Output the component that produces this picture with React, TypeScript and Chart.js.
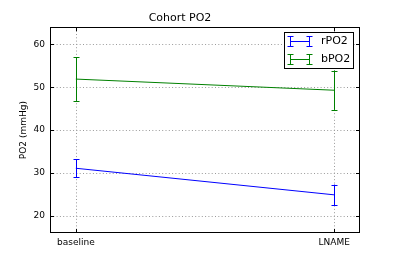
import React, { useEffect, useRef } from "react";
import { Chart, registerables } from "chart.js";

Chart.register(...registerables);

const categories = ["baseline", "LNAME"];
const rPO2 = [31.1, 24.9];
const rPO2Err = [2.1, 2.4];
const bPO2 = [51.9, 49.3];
const bPO2Err = [5.1, 4.6];
const yTicks = [20, 30, 40, 50, 60];

const seriesNames = ["rPO2", "bPO2"];
const seriesColors = ["#0000ff", "#008000"];
const FONT = "'DejaVu Sans', sans-serif";

const errors = [rPO2Err, bPO2Err];

const gridPlugin = {
  id: "dottedGrid",
  beforeDatasetsDraw(chart: any) {
    const ctx = chart.ctx;
    const { left, right, top, bottom } = chart.chartArea;
    const xs = chart.scales.x;
    const ys = chart.scales.y;
    ctx.save();
    ctx.strokeStyle = "#9a9a9a";
    ctx.lineWidth = 1;
    ctx.setLineDash([1, 2.3]);
    ctx.beginPath();
    yTicks.forEach((v) => {
      const py = Math.round(ys.getPixelForValue(v)) + 0.5;
      ctx.moveTo(left, py);
      ctx.lineTo(right, py);
    });
    categories.forEach((_, i) => {
      const px = Math.round(xs.getPixelForValue(i)) + 0.5;
      ctx.moveTo(px, bottom);
      ctx.lineTo(px, top);
    });
    ctx.stroke();
    ctx.restore();
  },
};

const errorBarPlugin = {
  id: "errorBars",
  afterDatasetsDraw(chart: any) {
    const ctx = chart.ctx;
    const xs = chart.scales.x;
    const ys = chart.scales.y;
    chart.data.datasets.forEach((ds: any, i: number) => {
      const err = errors[i];
      ctx.save();
      ctx.strokeStyle = ds.borderColor;
      ctx.lineWidth = 1;
      ds.data.forEach((p: any, j: number) => {
        const px = Math.round(xs.getPixelForValue(p.x)) + 0.5;
        const top = ys.getPixelForValue(p.y + err[j]);
        const bot = ys.getPixelForValue(p.y - err[j]);
        ctx.beginPath();
        ctx.moveTo(px, top);
        ctx.lineTo(px, bot);
        ctx.moveTo(px - 3, Math.round(top) + 0.5);
        ctx.lineTo(px + 3, Math.round(top) + 0.5);
        ctx.moveTo(px - 3, Math.round(bot) + 0.5);
        ctx.lineTo(px + 3, Math.round(bot) + 0.5);
        ctx.stroke();
      });
      ctx.restore();
    });
  },
};

const framePlugin = {
  id: "frameAndLegend",
  afterDraw(chart: any) {
    const ctx = chart.ctx;
    const { left, right, top, bottom } = chart.chartArea;
    const xs = chart.scales.x;
    const ys = chart.scales.y;
    ctx.save();
    // inward ticks
    ctx.strokeStyle = "#000";
    ctx.lineWidth = 1;
    ctx.beginPath();
    yTicks.forEach((v) => {
      const py = Math.round(ys.getPixelForValue(v)) + 0.5;
      ctx.moveTo(left, py);
      ctx.lineTo(left + 4, py);
      ctx.moveTo(right, py);
      ctx.lineTo(right - 4, py);
    });
    categories.forEach((_, v) => {
      const px = Math.round(xs.getPixelForValue(v)) + 0.5;
      ctx.moveTo(px, bottom);
      ctx.lineTo(px, bottom - 4);
      ctx.moveTo(px, top);
      ctx.lineTo(px, top + 4);
    });
    ctx.stroke();
    // frame
    ctx.strokeStyle = "#000";
    ctx.lineWidth = 1;
    ctx.strokeRect(Math.round(left) + 0.5, Math.round(top) + 0.5, Math.round(right - left) - 1, Math.round(bottom - top) - 1);

    // legend
    const lx = 284.5, ly = 32.5, lw = 69, lh = 36;
    ctx.fillStyle = "#fff";
    ctx.fillRect(lx, ly, lw, lh);
    ctx.strokeStyle = "#000";
    ctx.strokeRect(lx, ly, lw, lh);
    seriesNames.forEach((name, i) => {
      const cy = 41.5 + i * 18;
      ctx.strokeStyle = seriesColors[i];
      ctx.beginPath();
      const x0 = 290.5, x1 = 309.5;
      ctx.moveTo(x0, cy);
      ctx.lineTo(x1, cy);
      [x0, x1].forEach((xx) => {
        ctx.moveTo(xx, cy - 5);
        ctx.lineTo(xx, cy + 5);
        ctx.moveTo(xx - 3, cy - 5);
        ctx.lineTo(xx + 3, cy - 5);
        ctx.moveTo(xx - 3, cy + 5);
        ctx.lineTo(xx + 3, cy + 5);
      });
      ctx.stroke();
      ctx.fillStyle = "#000";
      ctx.font = `11px ${FONT}`;
      ctx.textBaseline = "middle";
      ctx.textAlign = "left";
      ctx.fillText(name, 321, cy);
    });
    ctx.restore();
  },
};

export default function App() {
  const ref = useRef<HTMLCanvasElement | null>(null);
  useEffect(() => {
    document.body.style.margin = "0";
    if (!ref.current) return;
    const chart = new Chart(ref.current, {
      type: "line",
      data: {
        datasets: [
          {
            label: seriesNames[0],
            data: categories.map((_, i) => ({ x: i, y: rPO2[i] })),
            borderColor: seriesColors[0],
            backgroundColor: seriesColors[0],
            borderWidth: 1,
            pointRadius: 0,
            fill: false,
          },
          {
            label: seriesNames[1],
            data: categories.map((_, i) => ({ x: i, y: bPO2[i] })),
            borderColor: seriesColors[1],
            backgroundColor: seriesColors[1],
            borderWidth: 1,
            pointRadius: 0,
            fill: false,
          },
        ],
      },
      options: {
        responsive: false,
        animation: false,
        events: [],
        layout: { padding: { left: 0, right: 40, top: 0, bottom: 0 } },
        plugins: {
          legend: { display: false },
          tooltip: { enabled: false },
          title: {
            display: true,
            text: "Cohort PO2",
            color: "#000",
            font: { family: FONT, size: 11, weight: "normal" },
            padding: { top: 12, bottom: 2 },
          },
        },
        scales: {
          x: {
            type: "linear",
            min: -0.1,
            max: 1.1,
            afterBuildTicks: (s: any) => {
              s.ticks = categories.map((_, i) => ({ value: i }));
            },
            afterFit: (s: any) => {
              s.height = 34;
            },
            ticks: {
              color: "#000",
              font: { family: FONT, size: 9 },
              padding: 4,
              maxRotation: 0,
              autoSkip: false,
              callback: (v: any) => categories[Math.round(v)] ?? "",
            },
            grid: { display: false, drawTicks: false },
            border: { display: false },
          },
          y: {
            type: "linear",
            min: 16,
            max: 64,
            afterBuildTicks: (s: any) => {
              s.ticks = yTicks.map((v) => ({ value: v }));
            },
            afterFit: (s: any) => {
              s.width = 50;
            },
            ticks: {
              color: "#000",
              font: { family: FONT, size: 9 },
              padding: 5,
            },
            grid: { display: false, drawTicks: false },
            border: { display: false },
            title: {
              display: true,
              text: "PO2 (mmHg)",
              color: "#000",
              font: { family: FONT, size: 9 },
              padding: { top: 18, bottom: 0 },
            },
          },
        },
      },
      plugins: [gridPlugin, errorBarPlugin, framePlugin],
    });
    return () => chart.destroy();
  }, []);
  return <canvas ref={ref} width={400} height={267} style={{ display: "block" }} />;
}
